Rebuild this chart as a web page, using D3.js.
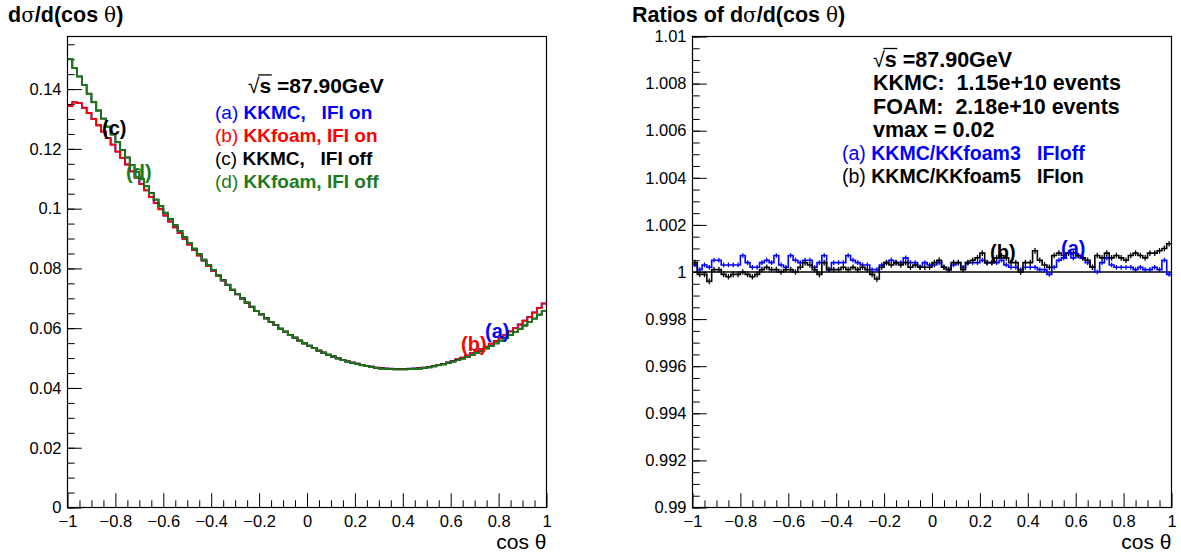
<!DOCTYPE html>
<html><head><meta charset="utf-8">
<script src="https://cdn.jsdelivr.net/npm/d3@7"></script>
<style>
body{margin:0;background:#fff}
svg{display:block}
text{font-family:"Liberation Sans",Arial,Helvetica,sans-serif}
</style>
</head><body>
<svg id="c" width="1181" height="555"></svg>
<script>
// ---------------- data ----------------
const binLow = -1, binHigh = 1, nBins = 100;
// KKfoam, IFI off (green) dσ/dcosθ per bin
const kkfoamOff = [0.1501,0.1471,0.1442,0.1413,0.1384,0.1356,0.1328,0.1301,0.1274,0.1248,
0.1222,0.1196,0.1171,0.1146,0.1122,0.1098,0.1075,0.1052,0.1030,0.1008,
0.0986,0.0965,0.0944,0.0924,0.0904,0.0885,0.0866,0.0847,0.0829,0.0811,
0.0794,0.0777,0.0761,0.0745,0.0729,0.0714,0.0700,0.0686,0.0672,0.0658,
0.0646,0.0633,0.0621,0.0610,0.0598,0.0588,0.0577,0.0568,0.0558,0.0549,
0.0541,0.0533,0.0525,0.0518,0.0511,0.0505,0.0499,0.0493,0.0488,0.0484,
0.0480,0.0476,0.0473,0.0470,0.0467,0.0465,0.0464,0.0463,0.0462,0.0462,
0.0462,0.0463,0.0464,0.0465,0.0467,0.0469,0.0472,0.0476,0.0479,0.0483,
0.0488,0.0493,0.0498,0.0504,0.0511,0.0517,0.0524,0.0532,0.0540,0.0549,
0.0558,0.0567,0.0577,0.0587,0.0598,0.0609,0.0620,0.0632,0.0645,0.0657];
// KKfoam, IFI on (red)
const kkfoamOn = [0.1343,0.1356,0.1353,0.1338,0.1320,0.1300,0.1279,0.1258,0.1236,0.1214,
0.1191,0.1170,0.1148,0.1125,0.1104,0.1082,0.1061,0.1039,0.1019,0.0998,
0.0977,0.0957,0.0937,0.0918,0.0899,0.0880,0.0862,0.0843,0.0826,0.0808,
0.0792,0.0775,0.0759,0.0744,0.0728,0.0713,0.0699,0.0685,0.0671,0.0658,
0.0646,0.0633,0.0621,0.0610,0.0598,0.0588,0.0577,0.0568,0.0558,0.0549,
0.0541,0.0533,0.0525,0.0518,0.0511,0.0505,0.0499,0.0494,0.0489,0.0485,
0.0481,0.0477,0.0474,0.0471,0.0468,0.0466,0.0465,0.0464,0.0463,0.0463,
0.0463,0.0464,0.0465,0.0466,0.0468,0.0470,0.0473,0.0477,0.0480,0.0485,
0.0490,0.0496,0.0501,0.0508,0.0516,0.0522,0.0530,0.0538,0.0548,0.0557,
0.0567,0.0577,0.0589,0.0600,0.0612,0.0625,0.0637,0.0652,0.0667,0.0682];
// (a) KKMC/KKfoam3 IFI off (blue)
const ratioOff = [1.0003,1.0001,1.0003,1.0002,1.0005,1.0005,1.0003,1.0003,1.0003,1.0003,
1.0007,1.0004,1.0002,1.0002,1.0004,1.0005,1.0004,1.0007,1.0003,1.0002,
1.0007,1.0005,1.0004,1.0005,1.0005,1.0002,1.0004,1.0007,1.0001,1.0004,
1.0004,1.0004,1.0007,1.0005,1.0004,1.0003,1.0003,1.0001,1.0001,1.0003,
1.0004,1.0005,1.0004,1.0004,1.0006,1.0004,1.0004,1.0002,1.0004,1.0003,
1.0003,1.0004,1.0002,1.0001,1.0003,1.0004,1.0002,1.0004,1.0004,1.0004,
1.0005,1.0004,1.0004,1.0004,1.0005,1.0003,1.0002,1.0002,1.0001,1.0002,
1.0002,1.0002,1.0001,1.0001,0.9999,1.0002,1.0005,1.0006,1.0008,1.0006,
1.0007,1.0006,1.0004,1.0002,1.0000,1.0004,1.0006,1.0003,1.0002,1.0002,
1.0002,1.0002,1.0001,1.0002,1.0001,1.0001,1.0002,1.0001,1.0005,0.9999];
// (b) KKMC/KKfoam5 IFI on (black)
const ratioOn = [1.0004,0.9999,0.9999,0.9996,1.0001,1.0001,0.9999,0.9998,0.9999,0.9999,
1.0000,0.9999,0.9998,0.9999,1.0001,1.0002,1.0001,1.0001,1.0000,1.0001,
1.0001,1.0000,1.0002,1.0004,1.0003,1.0001,0.9999,1.0004,1.0001,1.0001,
1.0001,1.0002,1.0001,1.0002,1.0001,1.0002,1.0001,0.9999,0.9997,1.0002,
1.0004,1.0003,1.0004,1.0003,1.0004,1.0002,1.0003,1.0002,1.0002,1.0002,
1.0004,1.0005,1.0002,1.0001,1.0004,1.0004,1.0001,1.0004,1.0005,1.0006,
1.0008,1.0004,1.0004,1.0006,1.0007,1.0006,1.0004,1.0004,1.0000,1.0004,
1.0004,1.0009,1.0005,1.0003,1.0002,1.0007,1.0008,1.0007,1.0008,1.0008,
1.0007,1.0006,1.0005,1.0002,1.0007,1.0006,1.0008,1.0006,1.0007,1.0006,
1.0005,1.0007,1.0008,1.0007,1.0006,1.0008,1.0008,1.0009,1.0010,1.0012];
const ratioErrOff = 0.0001, ratioErrOn = 0.00012;
// KKMC histograms = KKfoam × ratio
const kkmcOff = kkfoamOff.map((v,i)=>v*ratioOff[i]);
const kkmcOn  = kkfoamOn.map((v,i)=>v*ratioOn[i]);

const xMajor = [-1,-0.8,-0.6,-0.4,-0.2,0,0.2,0.4,0.6,0.8,1];
const yMajorL = [0,0.02,0.04,0.06,0.08,0.1,0.12,0.14];
const yMajorR = [0.99,0.992,0.994,0.996,0.998,1,1.002,1.004,1.006,1.008,1.01];
const yMaxL = 0.1576;

const legendL = [
  {tag:"(a)", text:"KKMC,   IFI on",  color:"#0000ff"},
  {tag:"(b)", text:"KKfoam, IFI on",  color:"#ff0000"},
  {tag:"(c)", text:"KKMC,   IFI off", color:"#000000"},
  {tag:"(d)", text:"KKfoam, IFI off", color:"#1c7a1c"}
];
const energyText = "s =87.90GeV";
const infoR = ["KKMC:  1.15e+10 events","FOAM:  2.18e+10 events","vmax = 0.02"];
const legendR = [
  {tag:"(a)", text:"KKMC/KKfoam3   IFIoff", color:"#0000ff"},
  {tag:"(b)", text:"KKMC/KKfoam5   IFIon",  color:"#000000"}
];

// ---------------- drawing ----------------
const svg = d3.select("#c");
const FONT = '"Liberation Sans",Arial,Helvetica,sans-serif';
const yTop = 36.5, yBot = 507.5;
const edges = d3.range(nBins+1).map(i => binLow + (binHigh-binLow)*i/nBins);
const centers = d3.range(nBins).map(i => (edges[i]+edges[i+1])/2);
const tickFmt = v => (v<0 ? "\u2212" : "") + String(Math.abs(+v.toFixed(3)));

function panel(x0, x1, yDomain, yMajor, yMinorStep) {
  const x = d3.scaleLinear().domain([binLow, binHigh]).range([x0, x1]);
  const y = d3.scaleLinear().domain(yDomain).range([yBot, yTop]);
  const g = svg.append("g");
  const xMinor = d3.range(0, 41).map(i => -1 + i*0.05).filter(v => Math.abs(Math.round(v*5)-v*5) > 1e-6);
  const yMinor = d3.range(0, Math.floor((yDomain[1]-yDomain[0])/yMinorStep+1e-6)+1).map(i => yDomain[0] + i*yMinorStep);
  g.append("g").attr("transform", `translate(0,${yBot})`)
    .call(d3.axisBottom(x).tickValues(xMajor).tickSize(-14.3).tickPadding(8).tickFormat(tickFmt));
  g.append("g").attr("transform", `translate(0,${yBot})`)
    .call(d3.axisBottom(x).tickValues(xMinor).tickSize(-7.2).tickFormat(""));
  g.append("g").attr("transform", `translate(${x0},0)`)
    .call(d3.axisLeft(y).tickValues(yMajor).tickSize(-14.3).tickPadding(6).tickFormat(tickFmt));
  g.append("g").attr("transform", `translate(${x0},0)`)
    .call(d3.axisLeft(y).tickValues(yMinor).tickSize(-7.2).tickFormat(""));
  g.selectAll(".domain").remove();
  g.selectAll(".tick line").attr("stroke", "#000").attr("stroke-width", 1);
  g.selectAll(".tick text").attr("font-family", FONT).attr("font-size", 16.5).attr("fill", "#000");
  g.append("rect").attr("x", x0).attr("y", yTop).attr("width", x1-x0).attr("height", yBot-yTop)
    .attr("fill", "none").attr("stroke", "#000").attr("stroke-width", 1.2);
  g.append("text").attr("x", x1).attr("y", 549).attr("text-anchor", "end")
    .attr("font-size", 21).text("cos \u03b8");
  return {x, y, g};
}

function stepPath(x, y, vals) {
  const pts = vals.map((v,i)=>[edges[i], v]);
  pts.push([edges[nBins], vals[nBins-1]]);
  return d3.line().x(d=>x(d[0])).y(d=>y(d[1])).curve(d3.curveStepAfter)(pts);
}

// √s label with radical overbar
function sqrtLabel(xp, yp, fs) {
  const t = svg.append("text").attr("x", xp).attr("y", yp).attr("font-size", fs).attr("font-weight","bold");
  t.append("tspan").attr("font-weight","normal").text("\u221A");
  t.append("tspan").text(energyText);
  const n = t.node();
  const e0 = n.getExtentOfChar(0), e1 = n.getExtentOfChar(1);
  svg.append("line").attr("x1", e0.x + e0.width - 1.5).attr("x2", e1.x + e1.width + 0.5)
    .attr("y1", yp - fs*0.86).attr("y2", yp - fs*0.86).attr("stroke","#000").attr("stroke-width",1.3);
}

// ---- left panel ----
const L = panel(67.5, 546.5, [0, yMaxL], yMajorL, 0.005);
svg.append("clipPath").attr("id","clipL").append("rect")
  .attr("x",67.5).attr("y",yTop).attr("width",479).attr("height",yBot-yTop);
const gl = svg.append("g").attr("clip-path","url(#clipL)");
[[kkmcOn,"#0000ff"],[kkfoamOn,"#ff0000"],[kkmcOff,"#000000"],[kkfoamOff,"#1c7a1c"]].forEach(([vals,col])=>{
  gl.append("path").attr("d", stepPath(L.x, L.y, vals)).attr("fill","none")
    .attr("stroke", col).attr("stroke-width", 1.8);
});
function title(xp, pre) {
  const t = svg.append("text").attr("x", xp).attr("y", 22).attr("font-size", 21.5).attr("font-weight","bold");
  if (pre) t.append("tspan").text(pre);
  t.append("tspan").text("d");
  t.append("tspan").attr("font-weight","normal").attr("font-family",'"DejaVu Serif",serif').attr("font-size",20).text("\u03c3");
  t.append("tspan").text("/d(cos ");
  t.append("tspan").attr("font-weight","normal").attr("font-family",'"DejaVu Serif",serif').attr("font-size",20).text("\u03b8");
  t.append("tspan").text(")");
}
title(8, "");
sqrtLabel(248, 93, 21);
legendL.forEach((d,i)=>{
  const t = svg.append("text").attr("x", 215).attr("y", 119 + i*23).attr("font-size", 19).attr("fill", d.color)
    .style("white-space","pre");
  t.append("tspan").text(d.tag + " ");
  t.append("tspan").attr("font-weight","bold").text(d.text);
});
const lab = (xp, yp, s, col, fs) => svg.append("text").attr("x", xp).attr("y", yp).attr("font-size", fs||20)
  .attr("font-weight","bold").attr("fill", col).text(s);
lab(102, 135, "(c)", "#000");
lab(126, 179, "(d)", "#1c7a1c");
lab(461, 351, "(b)", "#ff0000");
lab(485, 338, "(a)", "#0000ff");

// ---- right panel ----
const R = panel(692.5, 1171.5, [0.99, 1.01], yMajorR, 0.0005);
svg.append("clipPath").attr("id","clipR").append("rect")
  .attr("x",692.5).attr("y",yTop).attr("width",479).attr("height",yBot-yTop);
const gr = svg.append("g").attr("clip-path","url(#clipR)");
gr.append("line").attr("x1", R.x(-1)).attr("x2", R.x(1)).attr("y1", R.y(1)).attr("y2", R.y(1))
  .attr("stroke","#000").attr("stroke-width",1.3);
[[ratioOff,ratioErrOff,"#0000ff"],[ratioOn,ratioErrOn,"#000000"]].forEach(([vals,err,col])=>{
  gr.append("path").attr("d", stepPath(R.x, R.y, vals)).attr("fill","none")
    .attr("stroke", col).attr("stroke-width", 1.6);
  gr.selectAll(null).data(vals).enter().append("line")
    .attr("x1",(d,i)=>R.x(centers[i])).attr("x2",(d,i)=>R.x(centers[i]))
    .attr("y1",d=>R.y(d-err)).attr("y2",d=>R.y(d+err))
    .attr("stroke", col).attr("stroke-width", 1.3);
});
title(632, "Ratios of ");
sqrtLabel(873, 67, 21.5);
infoR.forEach((s,i)=>{
  svg.append("text").attr("x", 873).attr("y", 90 + i*23.5).attr("font-size", 21.5).attr("font-weight","bold")
    .style("white-space","pre").text(s);
});
legendR.forEach((d,i)=>{
  const t = svg.append("text").attr("x", 842).attr("y", 160 + i*22.5).attr("font-size", 19.5).attr("fill", d.color)
    .style("white-space","pre");
  t.append("tspan").text(d.tag + " ");
  t.append("tspan").attr("font-weight","bold").text(d.text);
});
lab(990, 259, "(b)", "#000");
lab(1061, 255, "(a)", "#0000ff");
</script>
</body></html>
